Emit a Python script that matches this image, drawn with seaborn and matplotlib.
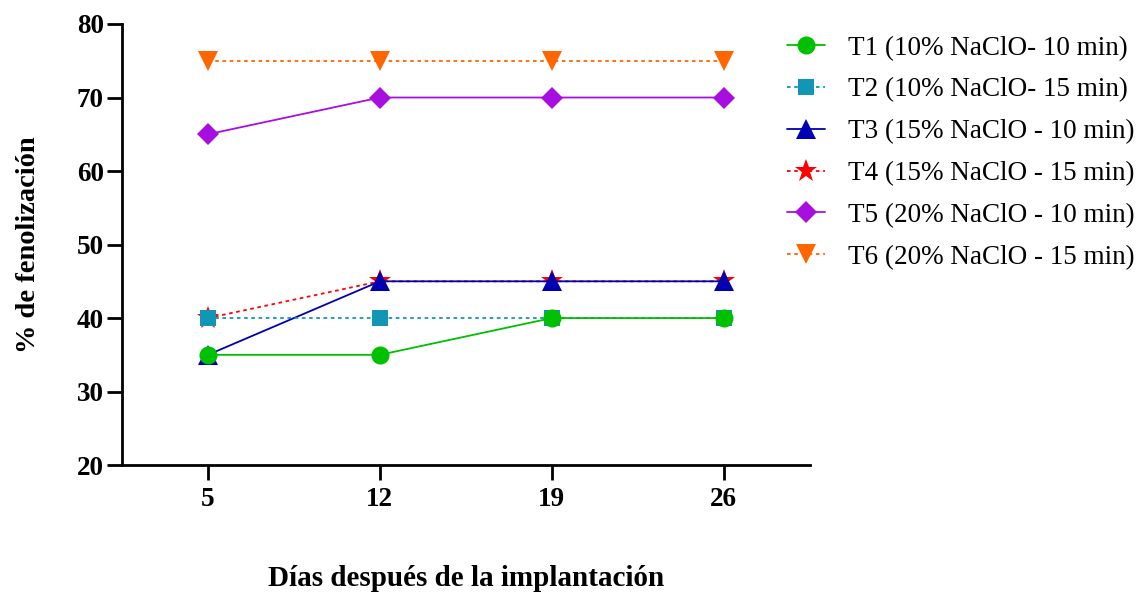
import pandas as pd
import matplotlib.pyplot as plt
import seaborn as sns

dias = [5, 12, 19, 26]
etiquetas = ['T1 (10% NaClO- 10 min)', 'T2 (10% NaClO- 15 min)',
             'T3 (15% NaClO - 10 min)', 'T4 (15% NaClO - 15 min)',
             'T5 (20% NaClO - 10 min)', 'T6 (20% NaClO - 15 min)']
t1 = [35, 35, 40, 40]
t2 = [40, 40, 40, 40]
t3 = [35, 45, 45, 45]
t4 = [40, 45, 45, 45]
t5 = [65, 70, 70, 70]
t6 = [75, 75, 75, 75]
valores = [t1, t2, t3, t4, t5, t6]

colores = ['#00C000', '#1197B4', '#0000B0', '#FF0000', '#A90EE0', '#FF6600']
marcadores = ['o', 's', '^', '*', 'D', 'v']
tamanos = [13, 12, 14, 17, 11, 14]
estilos = ['-', (0, (2, 2)), '-', (0, (2, 2)), '-', (0, (2, 2))]

df = pd.DataFrame({
    'dia': dias * len(etiquetas),
    'valor': sum(valores, []),
    'trat': [e for e in etiquetas for _ in dias],
})

sns.set_style('white')
plt.rcParams['font.family'] = ['Liberation Serif', 'DejaVu Serif']
plt.rcParams['text.color'] = 'black'
plt.rcParams['axes.labelcolor'] = 'black'

fig = plt.figure(figsize=(11.42, 5.94), dpi=100)
ax = fig.add_axes([0.1068, 0.217, 0.6022, 0.7426])

for i in reversed(range(len(etiquetas))):
    sub = df[df['trat'] == etiquetas[i]]
    sns.lineplot(data=sub, x='dia', y='valor', ax=ax, color=colores[i],
                 marker=marcadores[i], markersize=tamanos[i], markeredgewidth=0,
                 linewidth=1.3, linestyle=estilos[i], label=etiquetas[i])

h, l = ax.get_legend_handles_labels()
orden = {lab: hh for hh, lab in zip(h, l)}
ax.legend([orden[e] for e in etiquetas], etiquetas, loc='upper left',
          bbox_to_anchor=(0.689, 0.940), bbox_transform=fig.transFigure,
          frameon=False, fontsize=19.5, handlelength=1.4, handletextpad=0.85,
          labelspacing=0.62, borderpad=0, borderaxespad=0, labelcolor='black')

ax.set_xlim(1.5, 29.5)
ax.set_ylim(20, 80)
ax.set_xticks(dias)
ax.set_yticks([20, 30, 40, 50, 60, 70, 80])
ax.set_xticklabels([str(d) for d in dias])

for s in ['top', 'right']:
    ax.spines[s].set_visible(False)
for s in ['left', 'bottom']:
    ax.spines[s].set_linewidth(2)
    ax.spines[s].set_color('black')

ax.tick_params(axis='both', direction='out', width=2, length=11, colors='black',
               labelsize=19.5, left=True, bottom=True)
ax.tick_params(axis='y', pad=2)
ax.tick_params(axis='x', pad=5)
for t in ax.get_xticklabels() + ax.get_yticklabels():
    t.set_fontweight('bold')

ax.set_xlabel('Días después de la implantación', fontsize=21, fontweight='bold',
              labelpad=38)
ax.set_ylabel('% de fenolización', fontsize=20.5, fontweight='bold', labelpad=26)

fig.savefig('out.png', dpi=100)
